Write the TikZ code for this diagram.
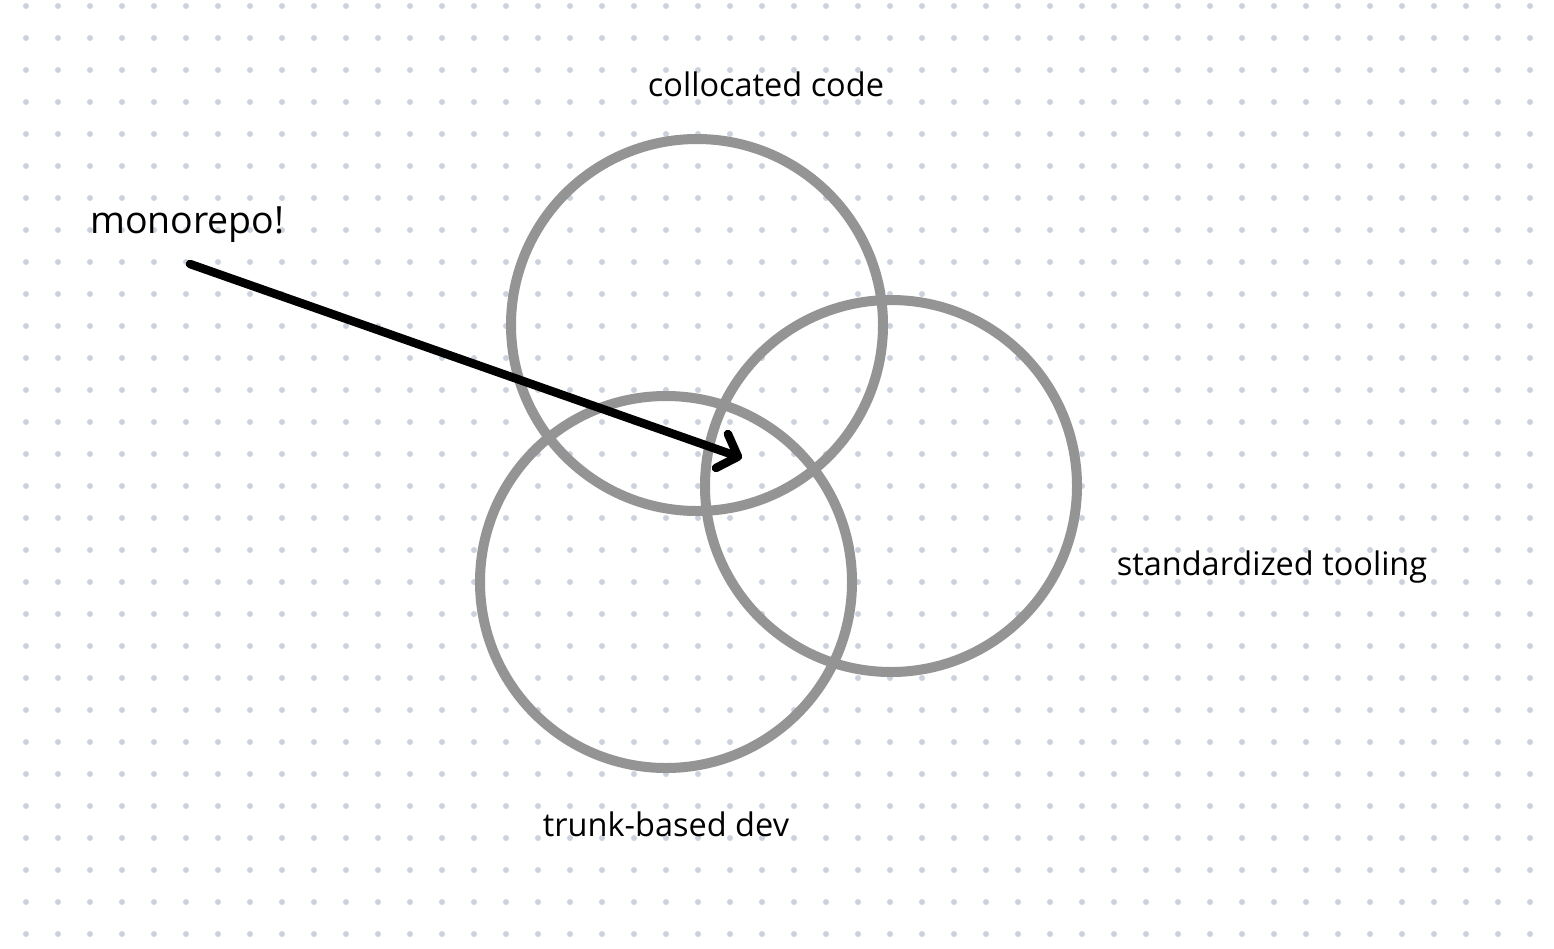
\documentclass[tikz,border=0pt]{standalone}
\usepackage{fontspec}
\setmainfont{Open Sans}
\usetikzlibrary{arrows.meta}
\definecolor{dotgray}{HTML}{CBD2DC}
\definecolor{ringgray}{HTML}{949494}

\begin{document}
\begin{tikzpicture}[x=1pt, y=-1pt,
    ring/.style={circle, draw=ringgray, line width=10pt, minimum size=372pt, inner sep=0pt},
    lbl/.style={font=\fontsize{32.5}{38}\selectfont, text=black, inner sep=0pt, anchor=base}]
    \useasboundingbox[fill=white] (0,0) rectangle (1554,948);
    % dotted background
    \foreach \i in {26,58,...,1530}
        \foreach \j in {6,38,...,934}
            \fill[dotgray] (\i,\j) circle (3pt);
    \node[ring] (code) at (697,325) {};
    \node[ring] (tooling) at (891,486) {};
    \node[ring] (trunk) at (666,582) {};
    \node[lbl] (codelbl) at (766,96) {collocated code};
    \node[lbl] (toolinglbl) at (1272,575) {standardized tooling};
    \node[lbl] (trunklbl) at (666,836) {trunk-based dev};
    \node[lbl, font=\fontsize{37.5}{44}\selectfont, anchor=base west] (mono) at (90,233) {monorepo!};
    \coordinate (start) at (190,264);
    \coordinate (tip) at (742,458);
    \draw[-{Straight Barb[length=17pt, width=36pt, round]}, line width=8.5pt, line cap=round] (start) -- (tip);
\end{tikzpicture}
\end{document}
